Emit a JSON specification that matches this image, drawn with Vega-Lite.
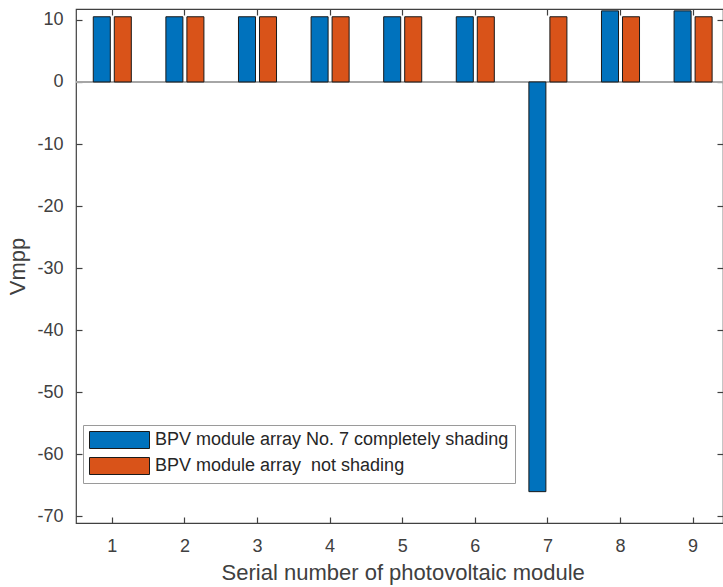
{
  "$schema": "https://vega.github.io/schema/vega-lite/v6.json",
  "autosize": "none",
  "width": 647,
  "height": 514,
  "padding": {"left": 76, "top": 9, "right": 0, "bottom": 64},
  "background": "white",
  "config": {
    "font": "Liberation Sans",
    "view": {"stroke": "#404040", "strokeWidth": 1.2},
    "axis": {
      "grid": false,
      "domain": false,
      "tickColor": "#404040",
      "tickWidth": 1.2,
      "labelColor": "#404040",
      "titleColor": "#404040",
      "labelFont": "Liberation Sans",
      "titleFont": "Liberation Sans",
      "labelFontSize": 18,
      "titleFontSize": 22,
      "titleFontWeight": "normal"
    }
  },
  "data": {
    "values": [
      {"module": "1", "series": "BPV module array No. 7 completely shading", "v": 10.5},
      {"module": "2", "series": "BPV module array No. 7 completely shading", "v": 10.5},
      {"module": "3", "series": "BPV module array No. 7 completely shading", "v": 10.5},
      {"module": "4", "series": "BPV module array No. 7 completely shading", "v": 10.5},
      {"module": "5", "series": "BPV module array No. 7 completely shading", "v": 10.5},
      {"module": "6", "series": "BPV module array No. 7 completely shading", "v": 10.5},
      {"module": "7", "series": "BPV module array No. 7 completely shading", "v": -66},
      {"module": "8", "series": "BPV module array No. 7 completely shading", "v": 11.45},
      {"module": "9", "series": "BPV module array No. 7 completely shading", "v": 11.45},
      {"module": "1", "series": "BPV module array  not shading", "v": 10.5},
      {"module": "2", "series": "BPV module array  not shading", "v": 10.5},
      {"module": "3", "series": "BPV module array  not shading", "v": 10.5},
      {"module": "4", "series": "BPV module array  not shading", "v": 10.5},
      {"module": "5", "series": "BPV module array  not shading", "v": 10.5},
      {"module": "6", "series": "BPV module array  not shading", "v": 10.5},
      {"module": "7", "series": "BPV module array  not shading", "v": 10.5},
      {"module": "8", "series": "BPV module array  not shading", "v": 10.5},
      {"module": "9", "series": "BPV module array  not shading", "v": 10.5}
    ]
  },
  "resolve": {"axis": {"x": "independent", "y": "independent"}},
  "layer": [
    {
      "mark": {"type": "rule", "color": "#a6a6a6", "strokeWidth": 1.2},
      "encoding": {"y": {"datum": 0, "type": "quantitative", "axis": null}}
    },
    {
      "mark": {"type": "bar", "stroke": "#1a1a1a", "strokeWidth": 1},
      "encoding": {
        "x": {
          "field": "module",
          "type": "ordinal",
          "sort": ["1","2","3","4","5","6","7","8","9"],
          "scale": {"range": [0, 653.4], "paddingInner": 0.476, "paddingOuter": 0.238},
          "axis": {
            "orient": "bottom",
            "title": "Serial number of photovoltaic module",
            "labelAngle": 0,
            "tickSize": -6,
            "labelPadding": 20,
            "titlePadding": 7
          }
        },
        "xOffset": {
          "field": "series",
          "type": "nominal",
          "sort": ["BPV module array No. 7 completely shading", "BPV module array  not shading"],
          "scale": {"paddingInner": 0.19}
        },
        "y": {
          "field": "v",
          "type": "quantitative",
          "scale": {"domain": [-71.05, 11.75], "nice": false, "zero": false},
          "axis": {
            "orient": "left",
            "title": "Vmpp",
            "values": [-70, -60, -50, -40, -30, -20, -10, 0, 10],
            "labelExpr": "replace(datum.label, '\u2212', '-')",
            "tickSize": -6,
            "labelPadding": 19,
            "titlePadding": 7
          }
        },
        "color": {
          "field": "series",
          "type": "nominal",
          "sort": ["BPV module array No. 7 completely shading", "BPV module array  not shading"],
          "scale": {"range": ["#0072BD", "#D95319"]},
          "legend": {
            "title": null,
            "orient": "none",
            "legendX": 7,
            "legendY": 416,
            "symbolType": "M-1,-1H6.06V1H-1Z",
            "symbolSize": 289,
            "symbolStrokeColor": "#1a1a1a",
            "symbolStrokeWidth": 1,
            "symbolOpacity": 1,
            "labelFontSize": 18,
            "labelColor": "#262626",
            "labelFont": "Liberation Sans",
            "labelLimit": 600,
            "labelOffset": 48,
            "labelExpr": "replace(datum.label, '  ', ' \u00a0')",
            "rowPadding": 4,
            "padding": 6,
            "strokeColor": "#9a9a9a",
            "fillColor": "white"
          }
        }
      }
    },
    {
      "mark": {"type": "bar", "opacity": 0},
      "encoding": {
        "x": {
          "field": "module",
          "type": "ordinal",
          "sort": ["1","2","3","4","5","6","7","8","9"],
          "axis": {"orient": "top", "title": null, "labels": false, "tickSize": -6}
        },
        "y": {
          "field": "v",
          "type": "quantitative",
          "axis": {
            "orient": "right",
            "title": null,
            "labels": false,
            "tickSize": -6,
            "values": [-70, -60, -50, -40, -30, -20, -10, 0, 10]
          }
        }
      }
    }
  ]
}
